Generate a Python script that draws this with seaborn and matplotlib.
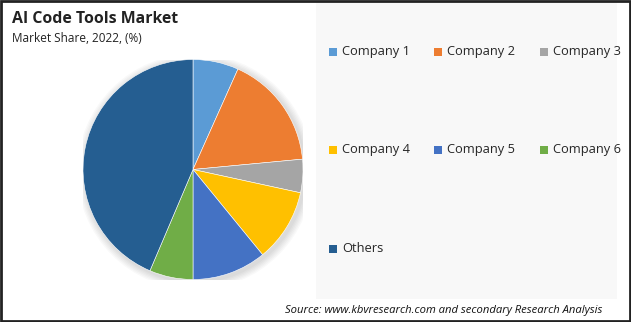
import matplotlib
matplotlib.use("Agg")
import matplotlib.pyplot as plt
from matplotlib.patches import Rectangle, Circle
import seaborn as sns

categories = ["Company 1", "Company 2", "Company 3", "Company 4", "Company 5", "Company 6", "Others"]
shares = [6.7, 16.8, 4.9, 10.7, 10.9, 6.4, 43.6]
colors = ["#5B9BD5", "#ED7D31", "#A5A5A5", "#FFC000", "#4472C4", "#70AD47", "#255E91"]

title = "AI Code Tools Market"
subtitle = "Market Share, 2022, (%)"
source = "Source: www.kbvresearch.com and secondary Research Analysis"

sns.set_theme(style="white")
plt.rcParams['font.family'] = ['Open Sans', 'DejaVu Sans']

W, H = 631, 322
fig = plt.figure(figsize=(W / 100, H / 100), dpi=100)
fig.patch.set_facecolor("white")

# light legend panel
fig.add_artist(Rectangle((316 / W, 1 - 299 / H), (617 - 316) / W, (299 - 2) / H,
                         transform=fig.transFigure, facecolor="#F8F8F8", edgecolor="none", zorder=0))
# outer border
fig.add_artist(Rectangle((1 / W, 1 / H), (W - 2) / W, (H - 2) / H, transform=fig.transFigure,
                         facecolor="none", edgecolor="#222222", linewidth=2.0, zorder=10))

cx, cy, r = 193, 169.5, 110
ax = fig.add_axes([(cx - r) / W, (H - cy - r) / H, 2 * r / W, 2 * r / H])
palette = sns.color_palette(colors)
# soft shadow
for k in range(6):
    ax.add_patch(Circle((0.02, -0.02), 1.0 + 0.012 * (k + 1), color="black", alpha=0.022, lw=0, zorder=0))
ax.pie(shares, colors=palette, startangle=90, counterclock=False,
       wedgeprops=dict(edgecolor="white", linewidth=0.4), radius=1.0)
ax.set_xlim(-1.0, 1.0)
ax.set_ylim(-1.0, 1.0)
ax.set_aspect("equal")
ax.axis("off")

fig.text(12 / W, 1 - 19 / H, title, fontsize=11.4, fontweight="bold", color="#222222", va="center", ha="left")
fig.text(12 / W, 1 - 38 / H, subtitle, fontsize=8.5, color="#222222", va="center", ha="left")
fig.text(602 / W, 1 - 310 / H, source, fontsize=8.1, style="italic", color="#111111", va="center", ha="right")

col_x = [329, 434, 540]
row_y = [52, 150, 249]
sq = 8
for i, (lab, col) in enumerate(zip(categories, palette)):
    rr, cc = divmod(i, 3)
    x, y = col_x[cc], row_y[rr]
    fig.add_artist(Rectangle((x / W, 1 - (y + sq / 2) / H), sq / W, sq / H, transform=fig.transFigure,
                             facecolor=col, edgecolor="none"))
    fig.text((x + sq + 5) / W, 1 - y / H, lab, fontsize=9.3, color="#262626", va="center", ha="left")

fig.savefig("out.png", dpi=100)
